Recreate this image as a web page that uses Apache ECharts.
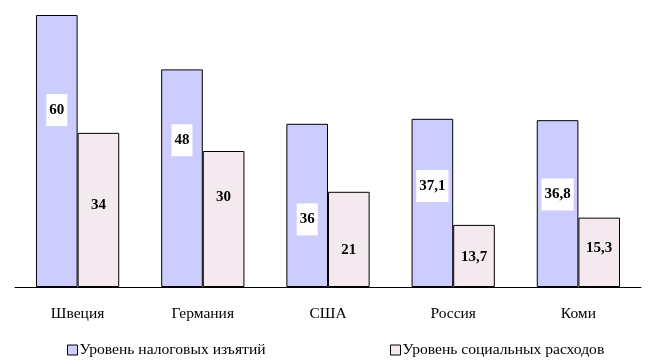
<!DOCTYPE html>
<html><head><meta charset="utf-8">
<script src="https://cdn.jsdelivr.net/npm/echarts@6/dist/echarts.min.js"></script>
<style>html,body{margin:0;padding:0;background:#fff}#c{width:656px;height:364px}</style>
</head><body><div id="c"></div>
<script>
const categories = ['Швеция', 'Германия', 'США', 'Россия', 'Коми'];
const taxValues = [60, 48, 36, 37.1, 36.8];
const socialValues = [34, 30, 21, 13.7, 15.3];
const seriesNames = ['Уровень налоговых изъятий', 'Уровень социальных расходов'];

// label vertical nudges (styling, px) to mimic the original label placement
const taxLabelShift = [-41, -38, 14, -17, -9];
const socialLabelShift = [-5, -22, 11, 1, -4];

const serif = '"Liberation Serif", "DejaVu Serif", serif';
const fmt = v => String(v).replace('.', ',');

function items(vals, shifts, boxed) {
  return vals.map((v, i) => ({
    value: v,
    label: {
      show: true, position: 'inside', offset: [0, shifts[i]],
      formatter: p => fmt(p.value),
      fontFamily: serif, fontWeight: 'bold', fontSize: 15, color: '#000',
      backgroundColor: boxed ? '#fff' : 'transparent',
      padding: boxed ? [9, 3, 8, 3] : 0
    }
  }));
}

const legendBase = {
  icon: 'rect', top: 337, itemWidth: 10, itemHeight: 10, itemGap: 0,
  itemStyle: { borderWidth: 1, borderColor: '#000' },
  textStyle: { fontFamily: serif, fontSize: 15.6, color: '#000', padding: [0, 0, 0, -3] }
};

const chart = echarts.init(document.getElementById('c'));
chart.setOption({
  animation: false,
  backgroundColor: '#fff',
  grid: { left: 15, right: 15, top: 15, bottom: 77 },
  xAxis: {
    type: 'category', data: categories,
    axisLine: { lineStyle: { color: '#000', width: 1 } },
    axisTick: { show: false },
    axisLabel: { fontFamily: serif, fontSize: 15.5, color: '#000', margin: 19 }
  },
  yAxis: { type: 'value', min: 0, max: 60, show: false, splitLine: { show: false } },
  legend: [
    Object.assign({ data: [seriesNames[0]], left: 62 }, legendBase),
    Object.assign({ data: [seriesNames[1]], left: 385 }, legendBase)
  ],
  series: [
    { name: seriesNames[0], type: 'bar', data: items(taxValues, taxLabelShift, true),
      barGap: 0, barCategoryGap: '33.5%',
      itemStyle: { color: '#CCCCFF', borderColor: '#000', borderWidth: 1 } },
    { name: seriesNames[1], type: 'bar', data: items(socialValues, socialLabelShift, false),
      itemStyle: { color: '#F4E9EF', borderColor: '#000', borderWidth: 1 } }
  ]
});
</script></body></html>
